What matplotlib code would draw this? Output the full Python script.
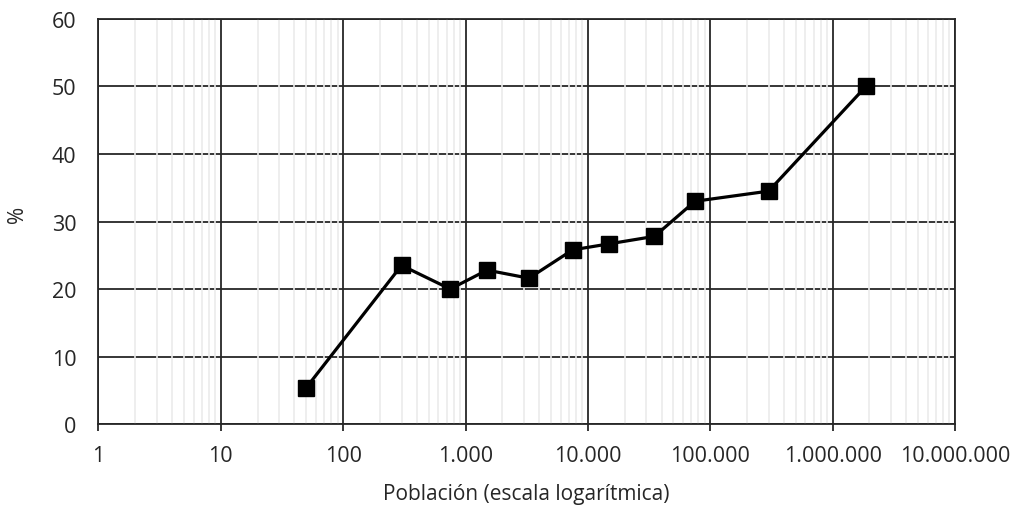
import matplotlib
matplotlib.use('Agg')
import matplotlib.pyplot as plt
from matplotlib.ticker import LogLocator, FuncFormatter, NullFormatter, MultipleLocator

# datos
poblacion = [50, 300, 750, 1500, 3300, 7500, 15000, 35000, 75000, 300000, 1870000]
porcentaje = [5.4, 23.5, 20.0, 22.8, 21.6, 25.8, 26.7, 27.8, 33.0, 34.5, 50.0]

plt.rcParams['font.family'] = ['Open Sans', 'DejaVu Sans']

fig = plt.figure(figsize=(10.13, 5.06), dpi=100)
ax = fig.add_axes([0.0972, 0.160, 0.8455, 0.8005])

ax.plot(poblacion, porcentaje, color='black', lw=2.3, marker='s',
        markersize=12, zorder=3, clip_on=False)

ax.set_xscale('log')
ax.set_xlim(1, 1e7)
ax.set_ylim(0, 60)
ax.yaxis.set_major_locator(MultipleLocator(10))
ax.set_xticks([10 ** k for k in range(8)])
ax.xaxis.set_minor_locator(LogLocator(base=10, subs=range(2, 10), numticks=20))
ax.xaxis.set_major_formatter(FuncFormatter(lambda v, p: f'{int(round(v)):,}'.replace(',', '.')))
ax.xaxis.set_minor_formatter(NullFormatter())
ax.set_xlim(1, 1e7)

# rejilla: lineas verticales menores por encima de las horizontales
ax.set_axisbelow(True)
ax.yaxis.set_zorder(0.3)
ax.xaxis.set_zorder(0.6)
ax.grid(which='major', axis='y', color='#262626', lw=1.3)
ax.grid(which='major', axis='x', color='#262626', lw=1.3)
ax.grid(which='minor', axis='x', color='#ebebeb', lw=1.2)

for s in ax.spines.values():
    s.set_color('#262626')
    s.set_linewidth(1.3)

ax.tick_params(axis='x', which='major', length=5, width=1.3, color='#262626',
               pad=10, labelsize=15.5, labelcolor='#262626')
ax.tick_params(axis='x', which='minor', length=0)
ax.tick_params(axis='y', length=0, pad=16, labelsize=15.5, labelcolor='#262626')

ax.set_xlabel('Población (escala logarítmica)', fontsize=15, color='#262626', labelpad=12)
ax.set_ylabel('%', fontsize=15, color='#262626', va='center')
ax.yaxis.set_label_coords(-0.094, 0.52)

fig.savefig('out.png', dpi=100)
